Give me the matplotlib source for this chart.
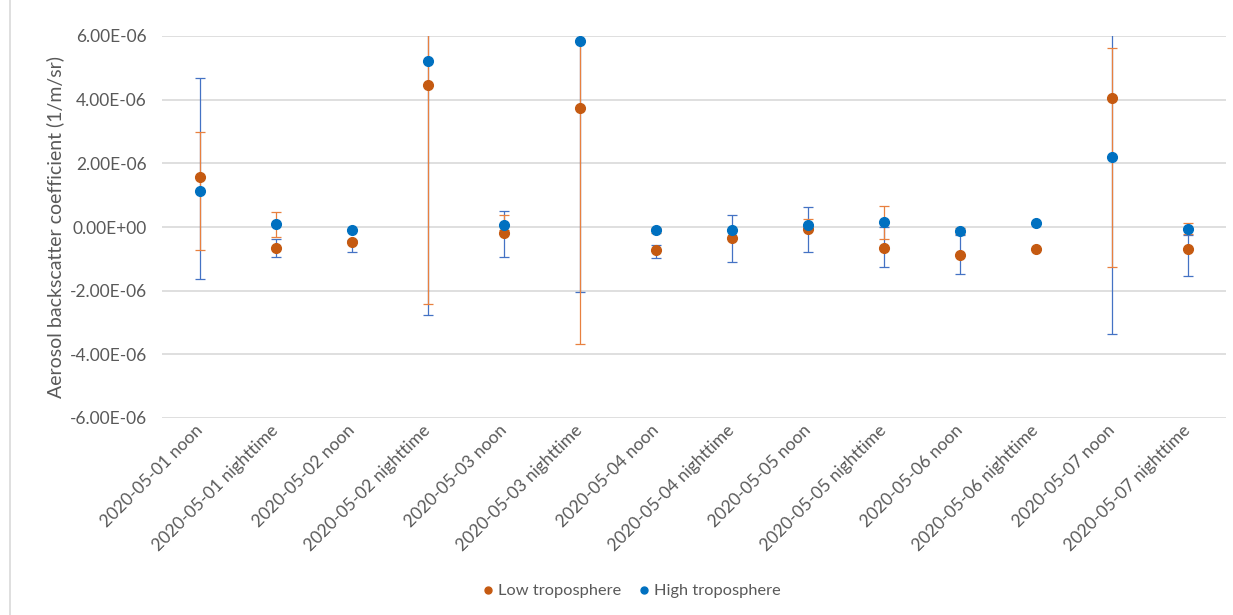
import numpy as np
import matplotlib
matplotlib.use("Agg")
import matplotlib.pyplot as plt
from matplotlib.lines import Line2D

plt.rcParams['font.family'] = ['Lato', 'DejaVu Sans']

# ---- data (1/m/sr, in units of 1e-6) ----
categories = [
    "2020-05-01 noon", "2020-05-01 nighttime",
    "2020-05-02 noon", "2020-05-02 nighttime",
    "2020-05-03 noon", "2020-05-03 nighttime",
    "2020-05-04 noon", "2020-05-04 nighttime",
    "2020-05-05 noon", "2020-05-05 nighttime",
    "2020-05-06 noon", "2020-05-06 nighttime",
    "2020-05-07 noon", "2020-05-07 nighttime",
]
low_tropo = [1.56, -0.65, -0.47, 4.47, -0.19, 3.73, -0.72,
             -0.36, -0.06, -0.65, -0.87, -0.68, 4.05, -0.70]
high_tropo = [1.14, 0.10, -0.08, 5.21, 0.07, 5.83, -0.09,
              -0.09, 0.06, 0.17, -0.12, 0.14, 2.21, -0.06]

# error bar ranges, nan = no bar
nan = np.nan
low_bar_top = [2.97, 0.47, nan, 6.60, 0.38, 5.80, -0.02,
               nan, 0.26, 0.67, -0.04, nan, 5.62, 0.12]
low_bar_bottom = [-0.72, -0.30, nan, -2.43, -0.10, -3.66, -0.20,
                  nan, -0.06, -0.37, -0.23, nan, -1.27, -0.23]
high_bar_top = [4.67, -0.37, -0.40, 6.40, 0.51, 5.83, -0.57,
                0.38, 0.63, -0.01, -0.25, nan, 7.50, -0.25]
high_bar_bottom = [-1.62, -0.95, -0.79, -2.76, -0.95, -2.04, -0.96,
                   -1.11, -0.79, -1.27, -1.49, nan, -3.36, -1.55]

scale = 1e-6
yticks = [-6e-6, -4e-6, -2e-6, 0, 2e-6, 4e-6, 6e-6]
ytick_labels = ["-6.00E-06", "-4.00E-06", "-2.00E-06", "0.00E+00",
                "2.00E-06", "4.00E-06", "6.00E-06"]

LOW_PT = "#C55A11"
LOW_BAR = "#E8803F"
HIGH_PT = "#0070C0"
HIGH_BAR = "#4472C4"
TXT = "#595959"


def draw_bars(ax, x, top, bottom, color, z):
    top = np.array(top) * scale
    bottom = np.array(bottom) * scale
    ax.vlines(x, bottom, top, color=color, lw=0.9, zorder=z)
    ax.plot(x, top, ls="none", marker="_", ms=7.5, mew=0.9, color=color, zorder=z)
    ax.plot(x, bottom, ls="none", marker="_", ms=7.5, mew=0.9, color=color, zorder=z)


fig = plt.figure(figsize=(12.33, 6.15), dpi=100)
ax = fig.add_axes([162 / 1233, 1 - 418 / 615, 1064 / 1233, 382 / 615])

x = np.arange(len(categories))
draw_bars(ax, x, high_bar_top, high_bar_bottom, HIGH_BAR, 2)
draw_bars(ax, x, low_bar_top, low_bar_bottom, LOW_BAR, 3)
ax.plot(x, np.array(low_tropo) * scale, ls="none", marker="o", ms=7,
        color=LOW_PT, zorder=4, label="Low troposphere")
ax.plot(x, np.array(high_tropo) * scale, ls="none", marker="o", ms=7,
        color=HIGH_PT, zorder=5, label="High troposphere")

ax.set_xlim(-0.5, len(categories) - 0.5)
ax.set_ylim(-6e-6, 6e-6)
ax.set_yticks(yticks)
ax.set_yticklabels(ytick_labels)
ax.grid(axis="y", color="#D9D9D9", lw=1.2)
ax.set_axisbelow(True)
for s in ax.spines.values():
    s.set_visible(False)
ax.tick_params(axis="both", length=0, colors=TXT, labelsize=12.5)
ax.tick_params(axis="y", pad=11)
ax.tick_params(axis="x", pad=7)

ax.set_xticks(x)
ax.set_xticklabels(categories, rotation=45, ha="right", va="center",
                   rotation_mode="anchor")
ax.set_ylabel("Aerosol backscatter coefficient (1/m/sr)", color=TXT,
              fontsize=14, labelpad=4)

handles = [
    Line2D([], [], ls="none", marker="o", ms=5, color=LOW_PT),
    Line2D([], [], ls="none", marker="o", ms=5, color=HIGH_PT),
]
fig.legend(handles, ["Low troposphere", "High troposphere"],
           loc="center", bbox_to_anchor=(630 / 1233, 1 - 591 / 615), ncol=2,
           frameon=False, fontsize=11.8, labelcolor=TXT,
           handletextpad=0.1, columnspacing=0.9, handlelength=1.0)

# chart area border on the left
fig.add_artist(Line2D([10 / 1233, 10 / 1233], [0, 1], color="#D9D9D9",
                      lw=1.2, transform=fig.transFigure))

fig.savefig("out.png", dpi=100)
